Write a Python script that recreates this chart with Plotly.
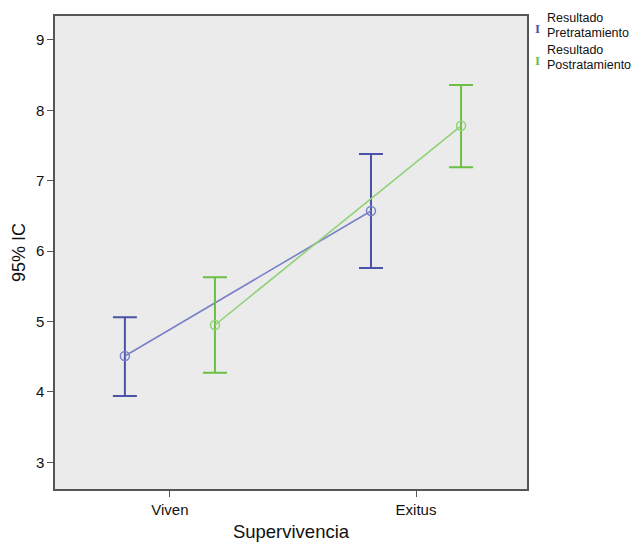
import plotly.graph_objects as go

categories = ["Viven", "Exitus"]
pre_mean = [4.51, 6.57]
pre_upper = [5.06, 7.38]
pre_lower = [3.94, 5.76]
post_mean = [4.95, 7.78]
post_upper = [5.63, 8.36]
post_lower = [4.27, 7.19]
series_names = [["Resultado", "Pretratamiento"], ["Resultado", "Postratamiento"]]

offset = 0.183
xpos = list(range(len(categories)))

blue = "#4b52a8"
blue_line = "#7a80c8"
green = "#6cbf45"
green_line = "#8fd277"

L, R, T, B = 55, 110, 16, 55
W, H = 637, 544
PW, PH = W - L - R, H - T - B

def px(xp):
    return (xp - L) / PW

def py(yp):
    return (H - B - yp) / PH

fig = go.Figure()

def add_series(mean, upper, lower, shift, ecol, lcol, name):
    xs = [x + shift for x in xpos]
    fig.add_trace(go.Scatter(
        x=xs, y=mean, mode="lines+markers", name=name,
        line=dict(color=lcol, width=1.6),
        marker=dict(symbol="circle-open", size=9, color=lcol, line=dict(width=1.5)),
        error_y=dict(type="data", symmetric=False,
                     array=[u - m for u, m in zip(upper, mean)],
                     arrayminus=[m - l for m, l in zip(mean, lower)],
                     color=ecol, thickness=2, width=12),
        showlegend=False,
    ))

add_series(pre_mean, pre_upper, pre_lower, -offset, blue, blue_line, " ".join(series_names[0]))
add_series(post_mean, post_upper, post_lower, offset, green, green_line, " ".join(series_names[1]))

# legend via annotations
for i, (lines, col) in enumerate(zip(series_names, [blue, green])):
    base = 18 + i * 32
    fig.add_annotation(xref="paper", yref="paper", x=px(537), y=py(base + 11), text="<b>I</b>",
                       showarrow=False, font=dict(color=col, size=13, family="Liberation Serif"),
                       xanchor="center", yanchor="middle")
    for j, t in enumerate(lines):
        fig.add_annotation(xref="paper", yref="paper", x=px(545), y=py(base + j * 15.5), text=t,
                           showarrow=False, align="left", xanchor="left", yanchor="middle",
                           font=dict(color="#111", size=12.5, family="Liberation Sans, Arial"))

fig.update_layout(
    width=W, height=H,
    margin=dict(l=L, r=R, t=T, b=B, autoexpand=False),
    paper_bgcolor="white", plot_bgcolor="#ebebeb",
    font=dict(family="Liberation Sans, Arial", color="#111"),
    xaxis=dict(range=[-0.467, 1.451], tickmode="array", tickvals=xpos, ticktext=categories,
               showgrid=False, zeroline=False, showline=True, linecolor="#555", linewidth=1.5,
               mirror=True, ticks="outside", ticklen=6, tickcolor="#555", automargin=False,
               tickfont=dict(size=15),
               title=dict(text="Supervivencia", font=dict(size=18.5), standoff=8)),
    yaxis=dict(range=[2.62, 9.34], tickmode="array", tickvals=[3, 4, 5, 6, 7, 8, 9],
               showgrid=False, zeroline=False, showline=True, linecolor="#555", linewidth=1.5,
               mirror=True, ticks="outside", ticklen=6, tickcolor="#555", automargin=False,
               tickfont=dict(size=15),
               title=dict(text="95% IC", font=dict(size=18), standoff=6)),
)

fig.write_html("out.html", config={"displayModeBar": False},
               post_script="document.body.style.margin='0';document.body.style.padding='0';")
